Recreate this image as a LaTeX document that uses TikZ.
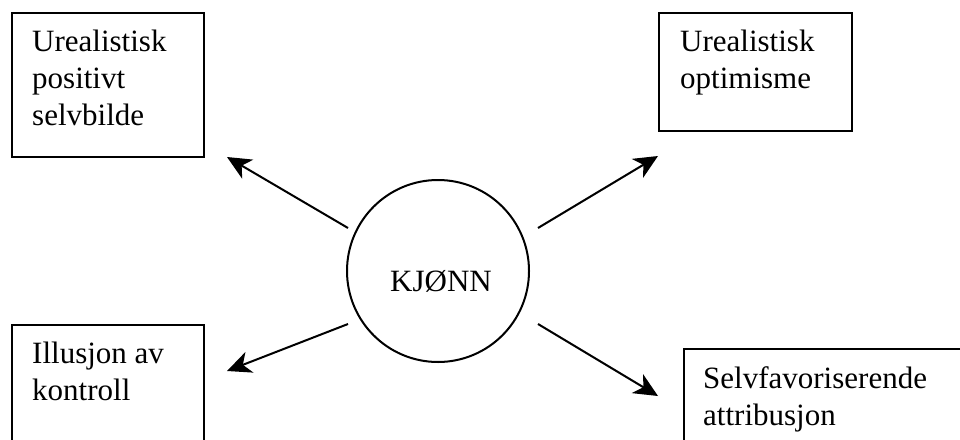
\documentclass[tikz,border=0pt]{standalone}
\usepackage{fontspec}
\setmainfont{Liberation Serif}
\usetikzlibrary{arrows.meta}
\begin{document}
\begin{tikzpicture}[x=1pt,y=-1pt,
  box/.style={draw=black,line width=2pt,rectangle,inner sep=0pt,anchor=north west},
  lbl/.style={font=\fontsize{31}{36.7}\selectfont,align=left,inner sep=0pt,anchor=base west},
  arr/.style={line width=2pt,-{Stealth[length=24pt,width=22pt,inset=7pt]}}]
\clip (0,0) rectangle (960,439);
\fill[white] (0,0) rectangle (960,439);
% boxes
\node[box,minimum width=192pt,minimum height=144pt] (b1) at (11,12) {};
\node[box,minimum width=193pt,minimum height=118pt] (b2) at (658,12) {};
\node[box,minimum width=192pt,minimum height=130pt] (b3) at (11,324) {};
\node[box,minimum width=290pt,minimum height=110pt] (b4) at (683,348) {};
% labels (anchored at the baseline of the last line)
\node[lbl] (t1) at (32,125) {Urealistisk\\positivt\\selvbilde};
\node[lbl] (t2) at (680,88) {Urealistisk\\optimisme};
\node[lbl] (t3) at (32,400) {Illusjon av\\kontroll};
\node[lbl] (t4) at (703,425) {Selvfavoriserende\\attribusjon};
% centre
\node[draw=black,line width=2pt,circle,minimum size=182pt,inner sep=0pt] (k) at (438,271) {};
\node[font=\fontsize{31}{36.7}\selectfont,inner sep=0pt,anchor=base] (kt) at (441,291) {KJØNN};
% arrow ends
\coordinate (s1) at (348,228); \coordinate (e1) at (227,157);
\coordinate (s2) at (538,228); \coordinate (e2) at (658,156);
\coordinate (s3) at (348,324); \coordinate (e3) at (227,371);
\coordinate (s4) at (538,324); \coordinate (e4) at (658,396);
\draw[arr] (s1) -- (e1);
\draw[arr] (s2) -- (e2);
\draw[arr] (s3) -- (e3);
\draw[arr] (s4) -- (e4);
\end{tikzpicture}
\end{document}
